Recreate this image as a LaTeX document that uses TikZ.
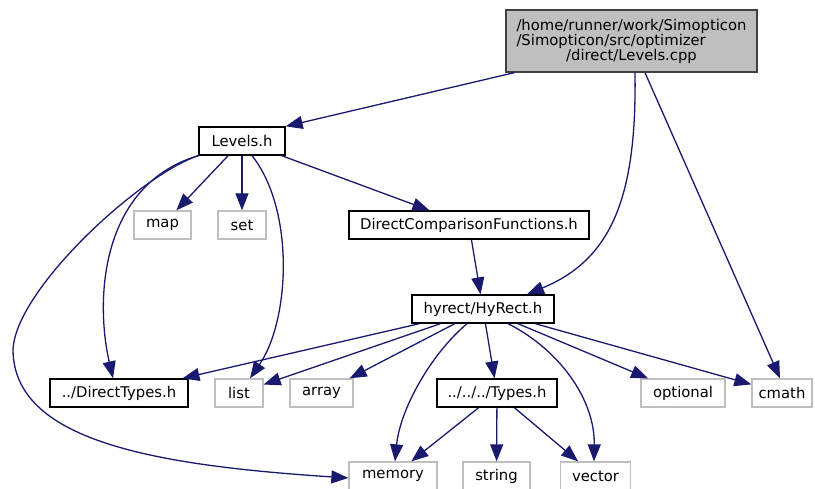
\documentclass[tikz,border=0pt]{standalone}
\usepackage{fontspec}
\setmainfont{DejaVu Sans}
\usepackage{xcolor}
\usepackage{tikz}
\usetikzlibrary{arrows.meta,positioning,calc}
\definecolor{edgeblue}{RGB}{25,25,112}
\definecolor{boxgray}{RGB}{191,191,191}
\definecolor{rootline}{RGB}{64,64,64}

\begin{document}
\begin{tikzpicture}[
    x=1pt, y=-1pt,
    font=\fontsize{14.8}{15}\selectfont,
    hdr/.style={rectangle, draw=black, line width=1.3pt, minimum height=28pt, inner sep=0pt, fill=white},
    stdhdr/.style={rectangle, draw=boxgray, line width=1.3pt, minimum height=28pt, inner sep=0pt, fill=white},
    srcfile/.style={rectangle, draw=rootline, line width=1.3pt, fill=boxgray, minimum width=251pt, minimum height=62pt, inner sep=0pt, align=center},
    incl/.style={-{Triangle[length=17pt, width=13pt]}, draw=edgeblue, line width=1.3pt}
]
    \useasboundingbox (0,0) rectangle (815,489);

    \node[srcfile] (root) at (631.5,41) {/home/runner/work/Simopticon\\\rlap{/Simopticon/src/optimizer}\phantom{/home/runner/work/Simopticon}\\/direct/Levels.cpp};
    \node[hdr, minimum width=86pt] (levels) at (242,141) {Levels.h};
    \node[stdhdr, minimum width=57pt] (map) at (162.5,225) {map};
    \node[stdhdr, minimum width=48pt] (set) at (242,225) {set};
    \node[hdr, minimum width=240pt] (dcf) at (469,225) {DirectComparisonFunctions.h};
    \node[hdr, minimum width=142pt] (hyrect) at (483,309) {hyrect/HyRect.h};
    \node[hdr, minimum width=138pt] (dtypes) at (119,393) {../DirectTypes.h};
    \node[stdhdr, minimum width=48pt] (list) at (239,393) {list};
    \node[stdhdr, minimum width=63pt] (array) at (321.5,393) {array};
    \node[hdr, minimum width=120pt] (types) at (497,393) {../../../Types.h};
    \node[stdhdr, minimum width=84pt] (optional) at (683,393) {optional};
    \node[stdhdr, minimum width=60pt] (cmath) at (782,393) {cmath};
    \node[stdhdr, minimum width=88pt] (memory) at (393,476) {memory};
    \node[stdhdr, minimum width=67pt] (string) at (496.5,476) {string};
    \node[stdhdr, minimum width=70pt] (vector) at (595.5,476) {vector};

    \draw[incl] ([xshift=9pt]root.south west) -- (levels.north east);
    \draw[incl] ([xshift=3.5pt]root.south) .. controls (637,200) and (610,260) .. ([xshift=44pt]hyrect.north);
    \draw[incl] ([xshift=13.5pt]root.south) -- ([xshift=-2pt]cmath.north);

    \draw[incl] (levels) -- (map);
    \draw[incl] (levels) -- (set);
    \draw[incl] (levels) -- (dcf);
    \draw[incl] ([xshift=10pt]levels.south) .. controls (295,210) and (290,320) .. ([xshift=11pt]list.north);
    \draw[incl] (levels.south west) .. controls (100,185) and (95,300) .. ([xshift=-6pt]dtypes.north);
    \draw[incl] (levels.south west) .. controls (140,175) and (15,290) .. (13,350)
        .. controls (14,440) and (150,465) .. ([yshift=-2pt]memory.west);

    \draw[incl] (dcf) -- (hyrect);

    \draw[incl] (hyrect) -- (dtypes);
    \draw[incl] (hyrect) -- (list);
    \draw[incl] (hyrect) -- (array);
    \draw[incl] ([xshift=-16pt]hyrect.south) .. controls (430,355) and (400,410) .. ([xshift=2pt]memory.north);
    \draw[incl] (hyrect) -- (types);
    \draw[incl] ([xshift=25pt]hyrect.south) .. controls (560,350) and (595,400) .. ([xshift=-1.5pt]vector.north);
    \draw[incl] (hyrect) -- (optional);
    \draw[incl] (hyrect) -- (cmath);

    \draw[incl] (types) -- (memory);
    \draw[incl] (types) -- (string);
    \draw[incl] (types) -- (vector);
\end{tikzpicture}
\end{document}
